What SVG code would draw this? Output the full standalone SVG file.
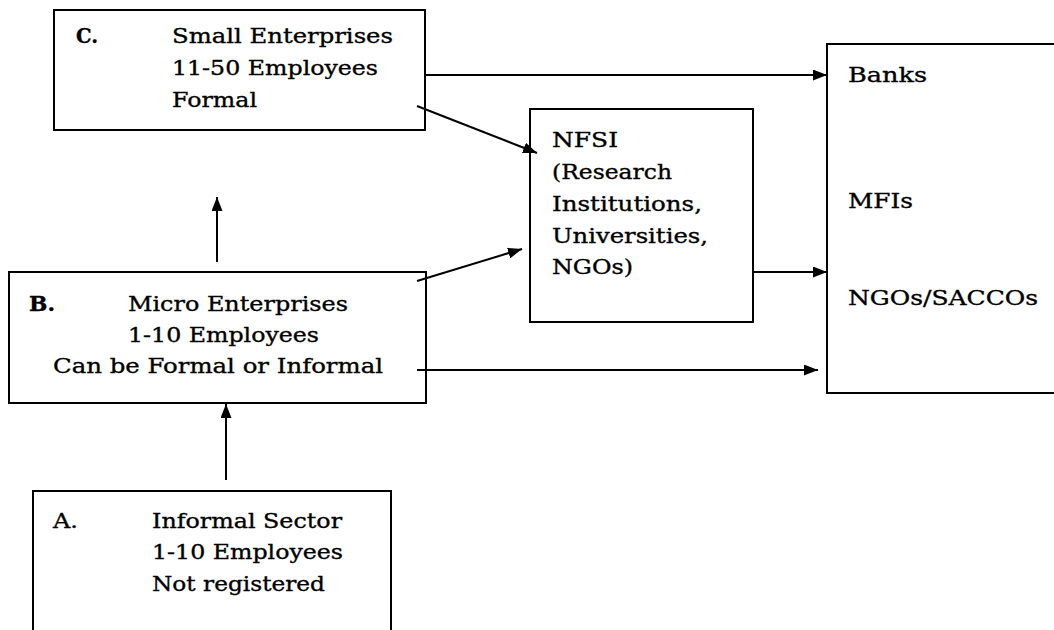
<svg xmlns="http://www.w3.org/2000/svg" width="1054" height="630" viewBox="0 0 1054 630">
  <style>
    .box { fill: #fff; stroke: #000; stroke-width: 2; }
    .t { font-family: "DejaVu Serif", "Liberation Serif", serif; font-size: 21px; fill: #000; stroke: #000; stroke-width: 0.35; }
    .b { font-weight: bold; }
    .link { stroke: #000; stroke-width: 2; fill: none; marker-end: url(#arrow); }
  </style>
  <defs>
    <marker id="arrow" viewBox="0 0 14 11" refX="14" refY="5.5" markerWidth="14" markerHeight="11" markerUnits="userSpaceOnUse" orient="auto">
      <path d="M0,0 L14,5.5 L0,11 Z" fill="#000"/>
    </marker>
  </defs>

  <rect width="1054" height="630" fill="#fff"/>

  <g id="node-c">
    <rect class="box" x="54" y="10" width="371" height="120"/>
    <text class="t b" x="76" y="43" textLength="22" lengthAdjust="spacingAndGlyphs">C.</text>
    <text class="t" x="172" y="43" textLength="221" lengthAdjust="spacingAndGlyphs">Small Enterprises</text>
    <text class="t" x="172" y="75" textLength="206" lengthAdjust="spacingAndGlyphs">11-50 Employees</text>
    <text class="t" x="172" y="107" textLength="85" lengthAdjust="spacingAndGlyphs">Formal</text>
  </g>

  <g id="node-b">
    <rect class="box" x="9" y="272" width="417" height="131"/>
    <text class="t b" x="29" y="311" textLength="26" lengthAdjust="spacingAndGlyphs">B.</text>
    <text class="t" x="128" y="311" textLength="220" lengthAdjust="spacingAndGlyphs">Micro Enterprises</text>
    <text class="t" x="128" y="342" textLength="191" lengthAdjust="spacingAndGlyphs">1-10 Employees</text>
    <text class="t" x="53" y="373" textLength="330" lengthAdjust="spacingAndGlyphs">Can be Formal or Informal</text>
  </g>

  <g id="node-a">
    <rect class="box" x="33" y="491" width="358" height="160"/>
    <text class="t" x="53" y="528" textLength="25" lengthAdjust="spacingAndGlyphs">A.</text>
    <text class="t" x="152" y="528" textLength="190" lengthAdjust="spacingAndGlyphs">Informal Sector</text>
    <text class="t" x="152" y="559" textLength="191" lengthAdjust="spacingAndGlyphs">1-10 Employees</text>
    <text class="t" x="152" y="591" textLength="173" lengthAdjust="spacingAndGlyphs">Not registered</text>
  </g>

  <g id="node-nfsi">
    <rect class="box" x="530" y="109" width="223" height="213"/>
    <text class="t" x="552" y="147" textLength="66" lengthAdjust="spacingAndGlyphs">NFSI</text>
    <text class="t" x="552" y="179" textLength="120" lengthAdjust="spacingAndGlyphs">(Research</text>
    <text class="t" x="552" y="211" textLength="150" lengthAdjust="spacingAndGlyphs">Institutions,</text>
    <text class="t" x="552" y="243" textLength="156" lengthAdjust="spacingAndGlyphs">Universities,</text>
    <text class="t" x="552" y="274" textLength="81" lengthAdjust="spacingAndGlyphs">NGOs)</text>
  </g>

  <g id="node-finance">
    <rect class="box" x="827" y="44" width="260" height="349"/>
    <text class="t" x="848" y="82" textLength="79" lengthAdjust="spacingAndGlyphs">Banks</text>
    <text class="t" x="848" y="208" textLength="65" lengthAdjust="spacingAndGlyphs">MFIs</text>
    <text class="t" x="848" y="305" textLength="190" lengthAdjust="spacingAndGlyphs">NGOs/SACCOs</text>
  </g>

  <g id="connectors">
    <line class="link" x1="426" y1="75" x2="827" y2="75"/>
    <line class="link" x1="417" y1="106" x2="537" y2="153"/>
    <line class="link" x1="417" y1="281" x2="522" y2="249"/>
    <line class="link" x1="753" y1="272" x2="827" y2="272"/>
    <line class="link" x1="417" y1="370" x2="818" y2="370"/>
    <line class="link" x1="217" y1="262" x2="217" y2="197"/>
    <line class="link" x1="226" y1="480" x2="226" y2="404"/>
  </g>
</svg>
